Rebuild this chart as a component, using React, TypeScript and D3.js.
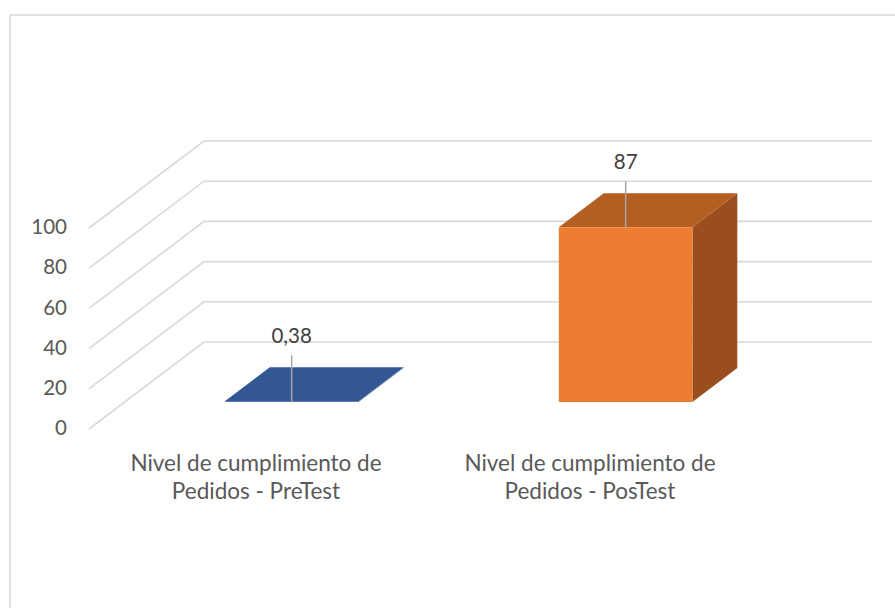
import * as d3 from "d3";

// chart data
const categories = [
  ["Nivel de cumplimiento de", "Pedidos - PreTest"],
  ["Nivel de cumplimiento de", "Pedidos - PosTest"],
];
const values = [0.38, 87];
const valueLabels = ["0,38", "87"];
const ticks = [0, 20, 40, 60, 80, 100];

const fills = [
  { front: "#3a5f9f", top: "#335694", side: "#28457a" },
  { front: "#ed7d31", top: "#b55e22", side: "#9a4e1d" },
];

const width = 895,
  height = 608;

// front plane of the plot and the oblique depth offset
const x0 = 89,
  x1 = 757,
  yZero = 429,
  depthX = 115,
  depthY = 87;

const font = "Lato, 'Open Sans', sans-serif";

function App() {
  const x = d3
    .scaleBand<number>()
    .domain(d3.range(categories.length))
    .range([x0, x1])
    .paddingInner(0.6)
    .paddingOuter(0.3);

  const y = d3.scaleLinear().domain([0, 100]).range([yZero, yZero - 201]);

  // z in [0,1]: 0 = front plane, 1 = back wall
  const zBar = [0.31, 0.7];
  const proj = (px: number, v: number, z: number): [number, number] => [
    px + z * depthX,
    y(v) - z * depthY,
  ];
  const poly = (pts: [number, number][]) =>
    pts.map((p) => p.join(",")).join(" ");

  return (
    <svg
      width={width}
      height={height}
      style={{ position: "absolute", left: 0, top: 0, background: "#fff" }}
    >
      <rect
        x={10}
        y={15}
        width={900}
        height={620}
        fill="none"
        stroke="#d9d9d9"
        strokeWidth={1.5}
      />

      {/* gridlines: left side wall + back wall */}
      <g stroke="#d9d9d9" strokeWidth={1.6} fill="none">
        {ticks.map((t) => {
          const a = proj(x0, t, 0);
          const b = proj(x0, t, 1);
          const c = [872, b[1]];
          return (
            <polyline key={t} points={`${a.join(",")} ${b.join(",")} ${c.join(",")}`} />
          );
        })}
      </g>

      {/* tick labels */}
      <g fontFamily={font} fontSize={20.5} fill="#595959" textAnchor="end">
        {ticks.map((t) => (
          <text key={t} x={67} y={y(t) + 1} dominantBaseline="middle">
            {t}
          </text>
        ))}
      </g>

      {/* 3D bars */}
      {values.map((v, i) => {
        const l = x(i)!;
        const r = l + x.bandwidth();
        const [za, zb] = zBar;
        const side = poly([proj(r, 0, za), proj(r, v, za), proj(r, v, zb), proj(r, 0, zb)]);
        const top = poly([proj(l, v, za), proj(r, v, za), proj(r, v, zb), proj(l, v, zb)]);
        const front = poly([proj(l, 0, za), proj(r, 0, za), proj(r, v, za), proj(l, v, za)]);
        const [cx, cy] = proj((l + r) / 2, v, za);
        return (
          <g key={i}>
            <polygon points={side} fill={fills[i].side} />
            <polygon points={top} fill={fills[i].top} />
            <polygon points={front} fill={fills[i].front} />
            <line x1={cx} x2={cx} y1={cy - 46} y2={cy} stroke="#a6a6a6" strokeWidth={1.5} />
            <text
              x={cx}
              y={cy - 63}
              dominantBaseline="middle"
              textAnchor="middle"
              fontFamily={font}
              fontSize={20.5}
              fill="#404040"
            >
              {valueLabels[i]}
            </text>
          </g>
        );
      })}

      {/* category labels */}
      <g fontFamily={font} fontSize={22.5} fill="#595959" textAnchor="middle">
        {categories.map((lines, i) => (
          <text key={i} x={x(i)! + x.bandwidth() / 2} y={471}>
            {lines.map((ln, j) => (
              <tspan key={j} x={x(i)! + x.bandwidth() / 2} dy={j === 0 ? 0 : 28}>
                {ln}
              </tspan>
            ))}
          </text>
        ))}
      </g>
    </svg>
  );
}

export default App;
